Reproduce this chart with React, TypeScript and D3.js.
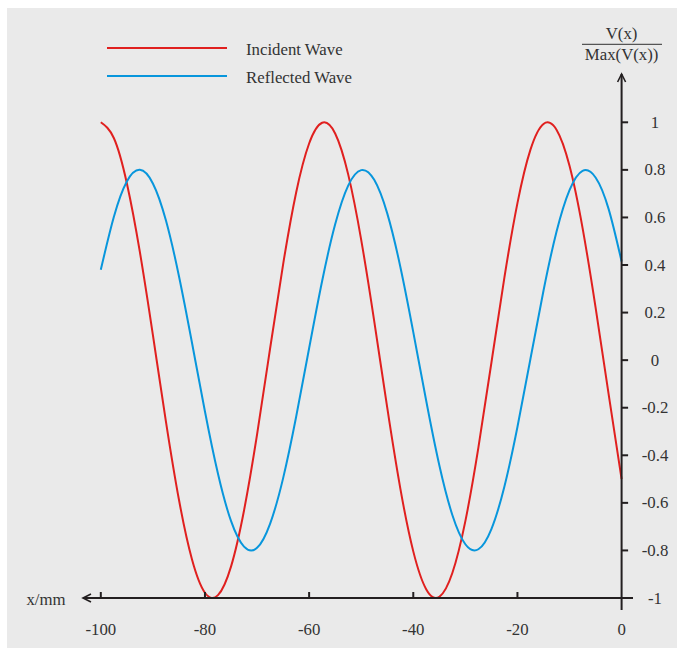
import React from "react";
import * as d3 from "d3";

// Positions along the line, mm
const xs: number[] = [
  -100, -97.5, -95, -92.5, -90, -87.5, -85, -82.5, -80, -77.5, -75, -72.5, -70, -67.5, -65, -62.5,
  -60, -57.5, -55, -52.5, -50, -47.5, -45, -42.5, -40, -37.5, -35, -32.5, -30, -27.5, -25, -22.5,
  -20, -17.5, -15, -12.5, -10, -7.5, -5, -2.5, 0,
];

const incident: number[] = [
  1.0, 0.934, 0.744, 0.455, 0.106, -0.257, -0.586, -0.837, -0.978, -0.988, -0.868, -0.632, -0.313,
  0.048, 0.402, 0.704, 0.911, 0.998, 0.953, 0.781, 0.506, 0.164, -0.2, -0.538, -0.804, -0.964,
  -0.995, -0.895, -0.677, -0.368, -0.011, 0.348, 0.66, 0.885, 0.993, 0.969, 0.817, 0.556, 0.222,
  -0.142, -0.5,
];

const reflected: number[] = [
  0.38, 0.602, 0.751, 0.8, 0.743, 0.588, 0.354, 0.074, -0.216, -0.478, -0.676, -0.784, -0.789,
  -0.688, -0.497, -0.239, 0.05, 0.333, 0.571, 0.734, 0.799, 0.758, 0.617, 0.394, 0.118, -0.173,
  -0.442, -0.651, -0.774, -0.795, -0.71, -0.531, -0.281, 0.006, 0.292, 0.54, 0.715, 0.796, 0.768,
  0.636, 0.415,
];

const xTicks: number[] = [-100, -80, -60, -40, -20, 0];
const yTicks: number[] = [1, 0.8, 0.6, 0.4, 0.2, 0, -0.2, -0.4, -0.6, -0.8, -1];

const seriesNames: string[] = ["Incident Wave", "Reflected Wave"];
const seriesColors: string[] = ["#e0201f", "#0896dc"];

const W = 677;
const H = 648;
const FONT = "'Liberation Serif', 'Times New Roman', serif";
const FS = 16.8;
const AXIS = "#231f20";
const TEXT = "#333333";

export default function App() {
  const x = d3.scaleLinear().domain([-100, 0]).range([100.8, 621.6]);
  const y = d3.scaleLinear().domain([-1, 1]).range([598, 122.3]);

  const line = d3
    .line<number>()
    .x((_, i) => x(xs[i]))
    .y((d) => y(d))
    .curve(d3.curveNatural);

  const series = [incident, reflected];
  const axisX = x(0);
  const axisY = y(-1);

  return (
    <svg
      width={W}
      height={H}
      style={{ position: "absolute", left: 0, top: 0, display: "block" }}
      fontFamily={FONT}
    >
      <rect x={0} y={0} width={W} height={H} fill="#ffffff" />
      <rect x={7} y={8} width={W - 7} height={H - 8} fill="#eaeaea" />

      {/* legend */}
      {seriesNames.map((name, i) => (
        <g key={name}>
          <line
            x1={107}
            x2={227}
            y1={48 + i * 28}
            y2={48 + i * 28}
            stroke={seriesColors[i]}
            strokeWidth={2}
          />
          <text x={246} y={54.5 + i * 28} fontSize={FS} fill={TEXT}>
            {name}
          </text>
        </g>
      ))}

      {/* y-axis label as fraction */}
      <text x={axisX} y={38.5} fontSize={FS} fill={TEXT} textAnchor="middle">
        V(x)
      </text>
      <line x1={582} x2={662} y1={44.3} y2={44.3} stroke="#555" strokeWidth={1.3} />
      <text x={axisX} y={59.5} fontSize={FS} fill={TEXT} textAnchor="middle">
        Max(V(x))
      </text>

      {/* curves */}
      {series.map((s, i) => (
        <path
          key={i}
          d={line(s) || ""}
          fill="none"
          stroke={seriesColors[i]}
          strokeWidth={2}
          strokeLinejoin="round"
        />
      ))}

      {/* y axis */}
      <line x1={axisX} x2={axisX} y1={74} y2={610} stroke={AXIS} strokeWidth={2} />
      <path
        d={`M${axisX - 4},${82} L${axisX},${74} L${axisX + 4},${82}`}
        fill="none"
        stroke={AXIS}
        strokeWidth={1.6}
      />
      {yTicks.map((t) => (
        <g key={t}>
          <line x1={axisX} x2={axisX + 6.5} y1={y(t)} y2={y(t)} stroke={AXIS} strokeWidth={2} />
          <text x={655} y={y(t) + 5.5} fontSize={FS} fill={TEXT} textAnchor="middle">
            {String(t)}
          </text>
        </g>
      ))}

      {/* x axis */}
      <line x1={83} x2={633} y1={axisY} y2={axisY} stroke={AXIS} strokeWidth={2} />
      <path
        d={`M${91},${axisY - 4} L${83},${axisY} L${91},${axisY + 4}`}
        fill="none"
        stroke={AXIS}
        strokeWidth={1.6}
      />
      {xTicks.map((t) => (
        <g key={t}>
          {t !== 0 && (
            <line x1={x(t)} x2={x(t)} y1={axisY} y2={axisY - 6} stroke={AXIS} strokeWidth={2} />
          )}
          <text x={x(t)} y={634.5} fontSize={FS} fill={TEXT} textAnchor="middle">
            {String(t)}
          </text>
        </g>
      ))}
      <text x={46} y={604.5} fontSize={FS} fill={TEXT} textAnchor="middle">
        x/mm
      </text>
    </svg>
  );
}
